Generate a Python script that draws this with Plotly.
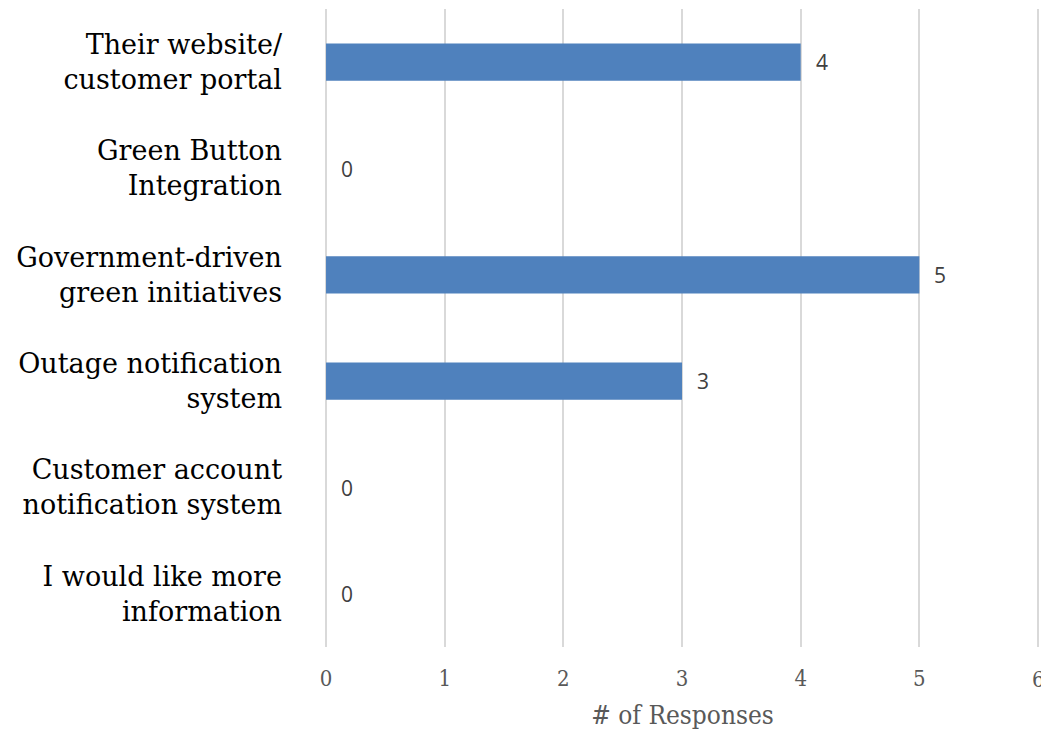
import plotly.graph_objects as go

# Survey responses per channel, listed top to bottom
categories = [
    "Their website/<br>customer portal",
    "Green Button<br>Integration",
    "Government-driven<br>green initiatives",
    "Outage notification<br>system",
    "Customer account<br>notification system",
    "I would like more<br>information",
]
responses = [4, 0, 5, 3, 0, 0]
x_ticks = [0, 1, 2, 3, 4, 5, 6]

serif = "Rockwell, 'DejaVu Serif', serif"
condensed = "'DejaVu Serif Condensed', " + serif
tick_font = dict(family=condensed, size=22, color="#595959")

fig = go.Figure(
    go.Bar(
        y=categories,
        x=responses,
        orientation="h",
        marker=dict(color="#4f81bd", line=dict(width=0)),
        width=0.35,
        hoverinfo="x+y",
    )
)

# Value labels just right of each bar end
for cat, val in zip(categories, responses):
    fig.add_annotation(
        x=val, y=cat, text=str(val), showarrow=False,
        xanchor="left", xshift=13,
        font=dict(family="'Open Sans', sans-serif", size=21, color="#404040"),
    )

# Last tick label sits on the right edge of the figure
fig.add_annotation(
    x=x_ticks[-1], y=0, xref="x", yref="paper", yanchor="top", yshift=-18,
    text=str(x_ticks[-1]), showarrow=False, xanchor="center",
    font=tick_font,
)

fig.update_layout(
    width=1041, height=730,
    margin=dict(l=324, r=0, t=9, b=83),
    plot_bgcolor="white", paper_bgcolor="white",
    showlegend=False,
    xaxis=dict(
        range=[-0.017, 6.025], tickvals=x_ticks,
        showgrid=True, gridcolor="#d9d9d9", gridwidth=2,
        zeroline=False, showline=False,
        ticks="", ticklabelstandoff=16,
        tickfont=tick_font,
        title=dict(text="# of Responses", standoff=16,
                   font=dict(family=condensed, size=26, color="#595959")),
    ),
    yaxis=dict(
        categoryorder="array", categoryarray=categories[::-1],
        showgrid=False, zeroline=False, showline=False,
        ticks="", ticklabelstandoff=41,
        tickfont=dict(family=serif, size=27, color="#000000"),
    ),
)

fig.write_html("out.html")
